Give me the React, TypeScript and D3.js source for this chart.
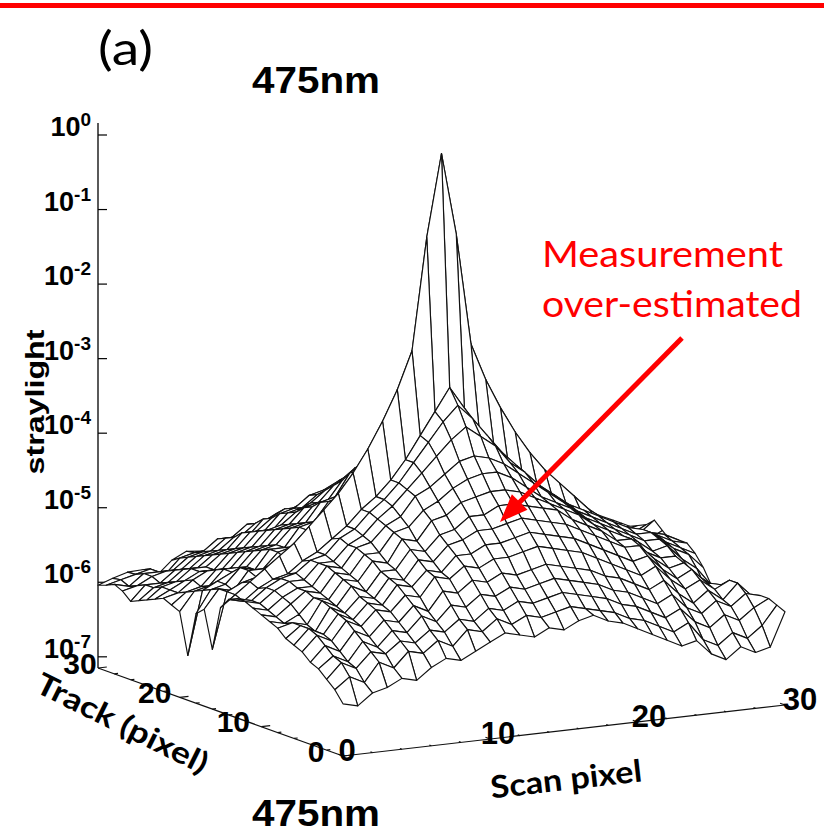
import * as d3 from 'd3';
import React, { useEffect, useRef } from 'react';

// tick values of the three axes
const scanTicks = [0, 10, 20, 30];
const trackTicks = [0, 10, 20, 30];
const zExponents = [0, -1, -2, -3, -4, -5, -6, -7];

// log10(straylight), read off the wireframe
// rows: track pixel 0..30, columns: scan pixel 0..30
const straylightLog10: number[][] = [
  [-6.45, -6.5, -6.35, -6.3, -6.2, -6.25, -6.1, -6.0, -6.05, -5.95, -5.85, -5.75, -5.8, -5.85, -5.75, -5.8, -5.7, -5.65, -5.75, -5.8, -5.9, -6.0, -6.1, -6.2, -6.15, -6.35, -6.45, -6.3, -6.4, -6.35, -5.9],
  [-6.3, -6.15, -6.25, -6.0, -6.1, -5.9, -5.95, -5.8, -5.9, -5.7, -5.75, -5.6, -5.7, -5.6, -5.65, -5.6, -5.55, -5.6, -5.65, -5.7, -5.8, -5.85, -5.95, -6.05, -5.95, -6.2, -6.3, -6.15, -6.25, -6.1, -5.85],
  [-6.2, -6.0, -6.1, -5.9, -5.95, -5.8, -5.85, -5.7, -5.75, -5.6, -5.65, -5.5, -5.55, -5.45, -5.5, -5.45, -5.4, -5.45, -5.5, -5.55, -5.65, -5.7, -5.8, -5.9, -5.8, -6.0, -6.1, -5.95, -6.05, -5.9, -5.8],
  [-6.1, -5.95, -6.05, -5.8, -5.9, -5.7, -5.75, -5.55, -5.65, -5.45, -5.5, -5.35, -5.4, -5.3, -5.35, -5.3, -5.25, -5.3, -5.35, -5.4, -5.5, -5.55, -5.65, -5.75, -5.65, -5.85, -5.95, -5.8, -5.9, -5.75, -5.8],
  [-6.05, -5.85, -5.95, -5.7, -5.8, -5.6, -5.65, -5.45, -5.55, -5.3, -5.35, -5.2, -5.25, -5.15, -5.2, -5.15, -5.1, -5.15, -5.2, -5.25, -5.35, -5.4, -5.5, -5.6, -5.5, -5.7, -5.85, -5.7, -5.85, -5.65, -5.85],
  [-5.95, -5.75, -5.85, -5.6, -5.7, -5.5, -5.55, -5.35, -5.4, -5.15, -5.2, -5.05, -5.1, -5.0, -5.0, -4.95, -4.9, -4.95, -5.0, -5.05, -5.15, -5.25, -5.35, -5.45, -5.35, -5.55, -5.7, -5.6, -5.75, -5.65, -5.95],
  [-5.9, -5.7, -5.8, -5.55, -5.65, -5.45, -5.5, -5.25, -5.3, -5.1, -5.15, -4.95, -4.95, -4.85, -4.85, -4.8, -4.75, -4.8, -4.85, -4.9, -5.0, -5.1, -5.2, -5.3, -5.25, -5.45, -5.6, -5.5, -5.7, -5.75, -6.05],
  [-5.85, -5.7, -5.8, -5.5, -5.6, -5.4, -5.45, -5.2, -5.25, -5.0, -5.05, -4.85, -4.8, -4.7, -4.7, -4.65, -4.6, -4.65, -4.7, -4.75, -4.85, -4.95, -5.05, -5.15, -5.15, -5.35, -5.5, -5.45, -5.65, -5.8, -6.1],
  [-5.75, -5.7, -5.75, -5.45, -5.55, -5.3, -5.4, -5.15, -5.15, -4.9, -4.95, -4.75, -4.7, -4.55, -4.55, -4.45, -4.45, -4.5, -4.55, -4.6, -4.75, -4.85, -4.95, -5.1, -5.1, -5.3, -5.4, -5.4, -5.6, -5.85, -6.15],
  [-5.7, -5.75, -5.65, -5.45, -5.5, -5.25, -5.3, -5.05, -5.1, -4.8, -4.85, -4.6, -4.55, -4.4, -4.35, -4.3, -4.3, -4.35, -4.45, -4.55, -4.65, -4.75, -4.9, -5.0, -5.1, -5.2, -5.35, -5.3, -5.5, -5.65, -5.9],
  [-5.65, -5.7, -5.55, -5.4, -5.45, -5.2, -5.25, -5.0, -5.0, -4.75, -4.7, -4.5, -4.4, -4.25, -4.15, -4.1, -4.1, -4.2, -4.35, -4.5, -4.6, -4.7, -4.85, -4.95, -5.05, -5.15, -5.25, -5.25, -5.4, -5.5, -5.7],
  [-5.6, -5.65, -5.5, -5.4, -5.4, -5.15, -5.2, -4.95, -4.9, -4.7, -4.6, -4.35, -4.25, -4.1, -3.95, -3.9, -3.95, -4.05, -4.2, -4.35, -4.5, -4.65, -4.8, -4.9, -5.0, -5.1, -5.2, -5.2, -5.35, -5.45, -5.55],
  [-5.55, -5.6, -5.45, -5.35, -5.35, -5.15, -5.15, -4.95, -4.85, -4.65, -4.5, -4.3, -4.1, -3.9, -3.7, -3.55, -3.7, -3.85, -4.1, -4.25, -4.45, -4.6, -4.75, -4.85, -4.95, -5.05, -5.15, -5.2, -5.3, -5.4, -5.45],
  [-5.55, -5.6, -5.45, -5.35, -5.3, -5.15, -5.1, -4.9, -4.8, -4.6, -4.45, -4.25, -4.0, -3.75, -3.5, -3.3, -3.5, -3.75, -4.0, -4.2, -4.45, -4.6, -4.75, -4.9, -5.0, -5.1, -5.2, -5.25, -5.3, -5.35, -5.45],
  [-5.6, -5.65, -5.5, -5.4, -5.35, -5.2, -5.1, -4.95, -4.8, -4.6, -4.45, -4.25, -4.0, -3.7, -3.4, -3.1, -3.4, -3.7, -3.95, -4.25, -4.45, -4.6, -4.75, -4.9, -5.0, -5.1, -5.2, -5.3, -5.35, -5.45, -5.5],
  [-5.75, -5.6, -5.45, -5.3, -5.15, -5.0, -4.8, -4.6, -4.4, -4.15, -3.85, -3.5, -3.1, -2.6, -1.1, 0, -1.1, -2.6, -3.1, -3.5, -3.85, -4.15, -4.4, -4.6, -4.8, -5.0, -5.15, -5.3, -5.45, -5.5, -5.4],
  [-6.35, -5.6, -5.5, -5.45, -5.3, -5.25, -5.05, -4.95, -4.85, -4.6, -4.5, -4.25, -4.0, -3.75, -3.5, -3.2, -3.5, -3.75, -4.0, -4.2, -4.45, -4.6, -4.8, -4.95, -5.1, -5.2, -5.35, -5.45, -5.5, -5.45, -5.3],
  [-5.85, -5.6, -5.65, -5.4, -5.4, -5.2, -5.15, -4.95, -4.85, -4.6, -4.55, -4.25, -4.1, -3.85, -3.7, -3.55, -3.7, -3.85, -4.1, -4.25, -4.5, -4.65, -4.8, -5.0, -5.1, -5.25, -5.35, -5.45, -5.5, -5.5, -5.4],
  [-5.95, -5.65, -5.6, -5.4, -5.45, -5.2, -5.2, -4.95, -4.9, -4.65, -4.6, -4.3, -4.2, -3.95, -3.8, -3.7, -3.8, -3.95, -4.15, -4.3, -4.55, -4.7, -4.85, -5.0, -5.1, -5.25, -5.35, -5.45, -5.55, -5.5, -5.45],
  [-6.55, -5.7, -5.6, -5.5, -5.45, -5.25, -5.2, -5.0, -4.95, -4.7, -4.65, -4.35, -4.25, -4.05, -3.95, -3.9, -3.95, -4.05, -4.2, -4.35, -4.55, -4.7, -4.85, -5.0, -5.15, -5.25, -5.35, -5.5, -5.55, -5.5, -5.5],
  [-6.0, -5.75, -5.7, -5.5, -5.5, -5.3, -5.25, -5.05, -5.0, -4.8, -4.75, -4.5, -4.4, -4.2, -4.1, -4.1, -4.1, -4.2, -4.35, -4.5, -4.65, -4.8, -4.9, -5.05, -5.15, -5.3, -5.4, -5.5, -5.6, -5.55, -5.5],
  [-5.95, -5.8, -5.75, -5.55, -5.55, -5.35, -5.3, -5.1, -5.05, -4.85, -4.8, -4.6, -4.55, -4.35, -4.3, -4.3, -4.3, -4.35, -4.5, -4.6, -4.75, -4.85, -5.0, -5.1, -5.2, -5.3, -5.45, -5.55, -5.6, -5.6, -5.5],
  [-5.9, -5.85, -5.7, -5.6, -5.6, -5.4, -5.35, -5.15, -5.1, -4.95, -4.85, -4.7, -4.6, -4.45, -4.4, -4.38, -4.4, -4.45, -4.58, -4.68, -4.8, -4.92, -5.05, -5.12, -5.25, -5.35, -5.48, -5.58, -5.62, -5.6, -5.5],
  [-5.95, -5.85, -5.75, -5.65, -5.65, -5.45, -5.4, -5.2, -5.2, -5.0, -4.95, -4.8, -4.75, -4.6, -4.55, -4.55, -4.55, -4.6, -4.7, -4.8, -4.9, -5.0, -5.1, -5.2, -5.3, -5.42, -5.5, -5.62, -5.65, -5.6, -5.5],
  [-6.0, -5.85, -5.8, -5.65, -5.65, -5.5, -5.45, -5.25, -5.25, -5.05, -5.0, -4.85, -4.8, -4.7, -4.65, -4.65, -4.65, -4.7, -4.75, -4.85, -4.95, -5.05, -5.15, -5.25, -5.35, -5.45, -5.5, -5.6, -5.65, -5.6, -5.5],
  [-6.05, -5.9, -5.85, -5.7, -5.7, -5.55, -5.5, -5.3, -5.3, -5.15, -5.1, -5.0, -4.95, -4.85, -4.8, -4.8, -4.8, -4.85, -4.9, -5.0, -5.05, -5.15, -5.2, -5.3, -5.4, -5.5, -5.55, -5.65, -5.7, -5.6, -5.5],
  [-6.1, -5.9, -5.9, -5.75, -5.75, -5.6, -5.55, -5.4, -5.4, -5.2, -5.2, -5.1, -5.1, -5.0, -4.95, -4.95, -4.95, -5.0, -5.05, -5.1, -5.15, -5.2, -5.3, -5.4, -5.45, -5.55, -5.6, -5.7, -5.7, -5.6, -5.5],
  [-6.0, -5.95, -5.85, -5.8, -5.8, -5.65, -5.6, -5.45, -5.45, -5.3, -5.25, -5.15, -5.15, -5.08, -5.05, -5.05, -5.05, -5.08, -5.12, -5.15, -5.22, -5.28, -5.35, -5.45, -5.5, -5.6, -5.65, -5.72, -5.7, -5.6, -5.5],
  [-5.95, -6.0, -5.85, -5.85, -5.85, -5.7, -5.65, -5.5, -5.5, -5.35, -5.35, -5.25, -5.25, -5.18, -5.15, -5.15, -5.15, -5.18, -5.22, -5.25, -5.3, -5.35, -5.42, -5.48, -5.55, -5.62, -5.68, -5.75, -5.7, -5.55, -5.5],
  [-6.0, -5.95, -5.9, -5.85, -5.95, -5.75, -5.7, -5.7, -5.65, -5.55, -5.5, -5.45, -5.4, -5.38, -5.32, -5.25, -5.2, -5.15, -5.2, -5.25, -5.3, -5.35, -5.4, -5.45, -5.5, -5.55, -5.6, -5.6, -5.55, -5.5, -5.5],
  [-6.04, -5.97, -5.91, -5.9, -6.0, -5.82, -5.72, -5.74, -5.72, -5.61, -5.53, -5.45, -5.41, -5.41, -5.35, -5.29, -5.23, -5.11, -5.15, -5.2, -5.25, -5.3, -5.35, -5.4, -5.45, -5.5, -5.5, -5.55, -5.5, -5.45, -5.5],
];

const plotFont = "'Liberation Sans', Arial, sans-serif";
const noteFont = "Lato, 'Open Sans', sans-serif";

const App = () => {
  const ref = useRef<SVGSVGElement>(null);

  useEffect(() => {
    document.body.style.margin = '0';
    const svg = d3.select(ref.current);
    svg.selectAll('*').remove();

    const nScan = straylightLog10[0].length;
    const nTrack = straylightLog10.length;

    // oblique projection of the base plane, log scale upward
    const origin = { x: 343, y: 756 };
    const scanX = d3.scaleLinear().domain([0, 30]).range([0, 442]);
    const scanY = d3.scaleLinear().domain([0, 30]).range([0, -51]);
    const trackX = d3.scaleLinear().domain([0, 30]).range([0, -245]);
    const trackY = d3.scaleLinear().domain([0, 30]).range([0, -88]);
    const zMin = Math.pow(10, -7.15);
    const zScale = d3.scaleLog().domain([zMin, 1]).range([0, 533]);

    const project = (s: number, t: number, v: number = zMin): [number, number] => [
      origin.x + scanX(s) + trackX(t),
      origin.y + scanY(s) + trackY(t) - zScale(v),
    ];
    const val = (s: number, t: number) => Math.pow(10, straylightLog10[t][s]);

    svg.append('rect').attr('width', 824).attr('height', 834).attr('fill', '#fff');

    // red rule on top
    svg.append('line')
      .attr('x1', 0).attr('x2', 824).attr('y1', 5.5).attr('y2', 5.5)
      .attr('stroke', '#ff0000').attr('stroke-width', 5);

    svg.append('text').attr('x', 98).attr('y', 65)
      .attr('font-family', noteFont).attr('font-size', 46)
      .attr('textLength', 55).attr('lengthAdjust', 'spacingAndGlyphs')
      .text('(a)');

    const title = (y: number) => svg.append('text').attr('x', 252).attr('y', y)
      .attr('font-family', plotFont).attr('font-weight', 'bold').attr('font-size', 37)
      .attr('textLength', 128).attr('lengthAdjust', 'spacingAndGlyphs')
      .text('475nm');
    title(93);
    title(826);

    // z axis at the back-left corner
    const [zx, zy] = project(0, 30);
    svg.append('line').attr('x1', zx).attr('x2', zx).attr('y1', zy).attr('y2', 123)
      .attr('stroke', '#000').attr('stroke-width', 1.3);
    zExponents.forEach(e => {
      const y = zy - zScale(Math.pow(10, e));
      svg.append('line').attr('x1', zx).attr('x2', zx + 9).attr('y1', y).attr('y2', y)
        .attr('stroke', '#000').attr('stroke-width', 1.2);
      const lab = svg.append('text').attr('x', zx - 7).attr('y', y + 1)
        .attr('text-anchor', 'end').attr('font-family', plotFont)
        .attr('font-weight', 'bold').attr('font-size', 27);
      lab.append('tspan').text('10');
      lab.append('tspan').attr('dy', -10).attr('font-size', 19).text(String(e));
    });

    svg.append('text')
      .attr('transform', 'translate(44,402) rotate(-90)')
      .attr('text-anchor', 'middle').attr('font-family', plotFont)
      .attr('font-weight', 'bold').attr('font-size', 26)
      .attr('textLength', 145).attr('lengthAdjust', 'spacingAndGlyphs')
      .text('straylight');

    // surface: white quads painted far to near (hidden lines)
    const quads: { d: string; depth: number }[] = [];
    for (let t = 0; t < nTrack - 1; t++) {
      for (let s = 0; s < nScan - 1; s++) {
        const pts = [[s, t], [s + 1, t], [s + 1, t + 1], [s, t + 1]]
          .map(([a, b]) => project(a, b, val(a, b)));
        quads.push({
          d: 'M' + pts.map(p => p.join(',')).join('L') + 'Z',
          depth: scanY(s + 0.5) + trackY(t + 0.5),
        });
      }
    }
    quads.sort((a, b) => a.depth - b.depth);
    svg.append('g')
      .selectAll('path')
      .data(quads)
      .enter().append('path')
      .attr('d', d => d.d)
      .attr('fill', '#fff')
      .attr('stroke', '#111')
      .attr('stroke-width', 1.15)
      .attr('stroke-linejoin', 'round');

    // track axis (scan = 0)
    const axis = svg.append('g').attr('stroke', '#111').attr('stroke-width', 1.2);
    const t0 = project(0, 0);
    const t30 = project(0, 30);
    axis.append('line').attr('x1', t0[0]).attr('y1', t0[1]).attr('x2', t30[0]).attr('y2', t30[1]);
    d3.range(0, 31, 2).forEach(t => {
      const a = project(0, t);
      const b = project(t % 10 === 0 ? 0.6 : 0.25, t);
      axis.append('line').attr('x1', a[0]).attr('y1', a[1]).attr('x2', b[0]).attr('y2', b[1]);
    });
    // scan axis (track = 0)
    const s30 = project(30, 0);
    axis.append('line').attr('x1', t0[0]).attr('y1', t0[1]).attr('x2', s30[0]).attr('y2', s30[1]);
    d3.range(0, 31, 2).forEach(s => {
      const a = project(s, 0);
      const b = project(s, s % 10 === 0 ? 0.6 : 0.25);
      axis.append('line').attr('x1', a[0]).attr('y1', a[1]).attr('x2', b[0]).attr('y2', b[1]);
    });

    const trackDx = d3.scaleLinear().domain([0, 10, 20, 30]).range([-27, -28, -25, -18]);
    trackTicks.forEach(t => {
      const [x, y] = project(0, t);
      svg.append('text').attr('x', x + trackDx(t)).attr('y', y - 5)
        .attr('text-anchor', 'middle').attr('dominant-baseline', 'central')
        .attr('font-family', plotFont).attr('font-weight', 'bold').attr('font-size', 30)
        .text(String(t));
    });
    const scanDx = d3.scaleLinear().domain([0, 30]).range([4, 15]);
    scanTicks.forEach(s => {
      const [x, y] = project(s, 0);
      svg.append('text').attr('x', x + scanDx(s)).attr('y', y - 6)
        .attr('text-anchor', 'middle').attr('dominant-baseline', 'central')
        .attr('font-family', plotFont).attr('font-weight', 'bold').attr('font-size', 31)
        .text(String(s));
    });

    svg.append('text')
      .attr('transform', 'translate(123,722) rotate(26.4)')
      .attr('text-anchor', 'middle').attr('dominant-baseline', 'central')
      .attr('font-family', noteFont).attr('font-weight', 'bold').attr('font-size', 30)
      .attr('textLength', 188).attr('lengthAdjust', 'spacingAndGlyphs')
      .text('Track (pixel)');
    svg.append('text')
      .attr('transform', 'translate(566,778) rotate(-6.5)')
      .attr('text-anchor', 'middle').attr('dominant-baseline', 'central')
      .attr('font-family', noteFont).attr('font-weight', 'bold').attr('font-size', 31)
      .attr('textLength', 152).attr('lengthAdjust', 'spacingAndGlyphs')
      .text('Scan pixel');

    // annotation
    const red = '#ff0000';
    svg.append('text').attr('x', 542).attr('y', 267)
      .attr('font-family', noteFont).attr('font-size', 37).attr('fill', red)
      .attr('textLength', 241).attr('lengthAdjust', 'spacingAndGlyphs')
      .text('Measurement');
    svg.append('text').attr('x', 542).attr('y', 317)
      .attr('font-family', noteFont).attr('font-size', 37).attr('fill', red)
      .attr('textLength', 260).attr('lengthAdjust', 'spacingAndGlyphs')
      .text('over-estimated');

    const start = [682, 338];
    const tip = [500, 522];
    const len = Math.hypot(tip[0] - start[0], tip[1] - start[1]);
    const ux = (tip[0] - start[0]) / len;
    const uy = (tip[1] - start[1]) / len;
    const headL = 28, headW = 11;
    const bx = tip[0] - ux * headL, by = tip[1] - uy * headL;
    svg.append('line').attr('x1', start[0]).attr('y1', start[1])
      .attr('x2', bx + ux * 4).attr('y2', by + uy * 4)
      .attr('stroke', red).attr('stroke-width', 5);
    svg.append('path')
      .attr('d', `M${tip[0]},${tip[1]}L${bx - uy * headW},${by + ux * headW}L${bx + uy * headW},${by - ux * headW}Z`)
      .attr('fill', red);
  }, []);

  return <svg ref={ref} width={824} height={834} style={{ display: 'block' }} />;
};

export default App;
